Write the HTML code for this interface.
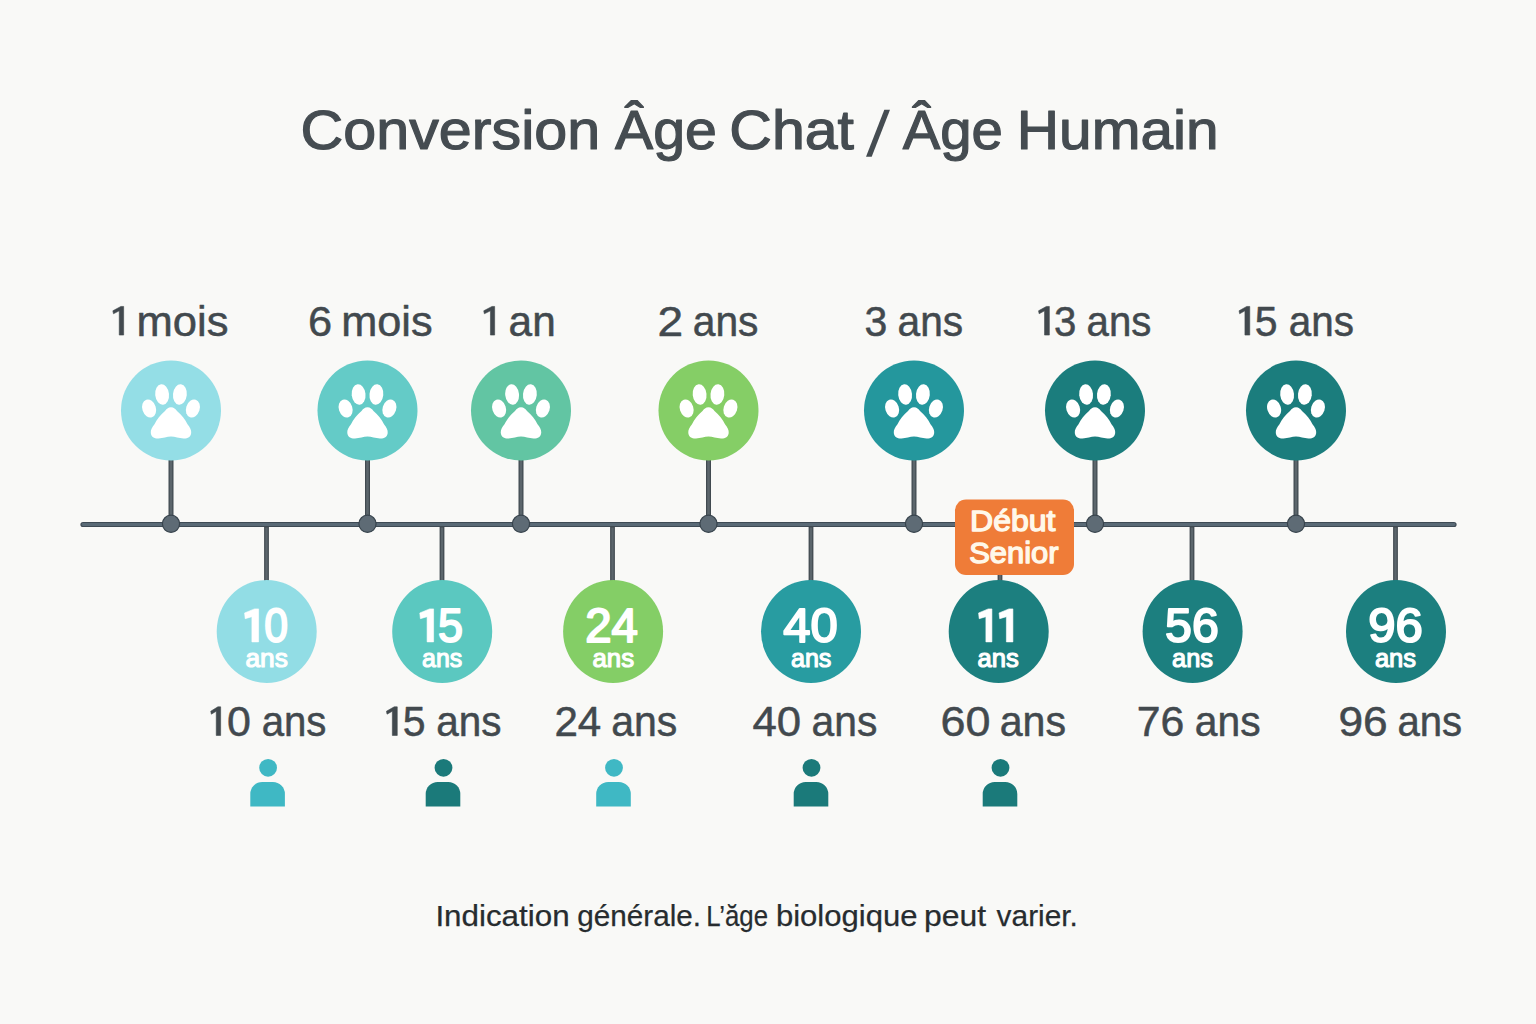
<!DOCTYPE html>
<html><head><meta charset="utf-8"><style>
html,body{margin:0;padding:0;background:#f9f9f7;width:1536px;height:1024px;overflow:hidden}
svg{display:block;font-family:"Liberation Sans",sans-serif}
</style></head><body>
<svg width="1536" height="1024" viewBox="0 0 1536 1024">
<defs><symbol id="paw" viewBox="-50 -50 100 100" overflow="visible">
<ellipse cx="-8.9" cy="-16" rx="6.9" ry="10.2" transform="rotate(-6 -8.9 -16)"/>
<ellipse cx="8.9" cy="-16" rx="6.9" ry="10.2" transform="rotate(6 8.9 -16)"/>
<ellipse cx="-21.9" cy="-2" rx="6.8" ry="9.2" transform="rotate(-18 -21.9 -2)"/>
<ellipse cx="21.9" cy="-2" rx="6.8" ry="9.2" transform="rotate(18 21.9 -2)"/>
<path d="M0 -3.3C2.8 -3.3 4.5 -1.5 6 0.5C10.4 4.2 14.4 9.3 16.5 13.8C19 17 20.5 19.5 20.2 22.5C19.8 26.5 16.5 28.2 12.5 28C8 27.8 4 26 0 26C-4 26 -8 27.8 -12.5 28C-16.5 28.2 -19.8 26.5 -20.2 22.5C-20.5 19.5 -19 17 -16.5 13.8C-14.4 9.3 -10.4 4.2 -6 0.5C-4.5 -1.5 -2.8 -3.3 0 -3.3Z"/>
</symbol></defs>
<line x1="83" y1="524.5" x2="1454" y2="524.5" stroke="#3f4b55" stroke-width="5.2" stroke-linecap="round"/>
<line x1="83" y1="524.5" x2="1454" y2="524.5" stroke="#5a6a76" stroke-width="2.8" stroke-linecap="round"/>
<line x1="171" y1="458.5" x2="171" y2="524.5" stroke="#414a50" stroke-width="5"/>
<line x1="171" y1="458.5" x2="171" y2="521.5" stroke="#5c666c" stroke-width="2.6"/>
<line x1="367.5" y1="458.5" x2="367.5" y2="524.5" stroke="#414a50" stroke-width="5"/>
<line x1="367.5" y1="458.5" x2="367.5" y2="521.5" stroke="#5c666c" stroke-width="2.6"/>
<line x1="521" y1="458.5" x2="521" y2="524.5" stroke="#414a50" stroke-width="5"/>
<line x1="521" y1="458.5" x2="521" y2="521.5" stroke="#5c666c" stroke-width="2.6"/>
<line x1="708.5" y1="458.5" x2="708.5" y2="524.5" stroke="#414a50" stroke-width="5"/>
<line x1="708.5" y1="458.5" x2="708.5" y2="521.5" stroke="#5c666c" stroke-width="2.6"/>
<line x1="914" y1="458.5" x2="914" y2="524.5" stroke="#414a50" stroke-width="5"/>
<line x1="914" y1="458.5" x2="914" y2="521.5" stroke="#5c666c" stroke-width="2.6"/>
<line x1="1095" y1="458.5" x2="1095" y2="524.5" stroke="#414a50" stroke-width="5"/>
<line x1="1095" y1="458.5" x2="1095" y2="521.5" stroke="#5c666c" stroke-width="2.6"/>
<line x1="1296" y1="458.5" x2="1296" y2="524.5" stroke="#414a50" stroke-width="5"/>
<line x1="1296" y1="458.5" x2="1296" y2="521.5" stroke="#5c666c" stroke-width="2.6"/>
<line x1="266.5" y1="526.5" x2="266.5" y2="583.4" stroke="#414a50" stroke-width="4.8"/>
<line x1="266.5" y1="527.5" x2="266.5" y2="583.4" stroke="#5c666c" stroke-width="2.4"/>
<line x1="442" y1="526.5" x2="442" y2="583.4" stroke="#414a50" stroke-width="4.8"/>
<line x1="442" y1="527.5" x2="442" y2="583.4" stroke="#5c666c" stroke-width="2.4"/>
<line x1="612.5" y1="526.5" x2="612.5" y2="583.4" stroke="#414a50" stroke-width="4.8"/>
<line x1="612.5" y1="527.5" x2="612.5" y2="583.4" stroke="#5c666c" stroke-width="2.4"/>
<line x1="811" y1="526.5" x2="811" y2="583.4" stroke="#414a50" stroke-width="4.8"/>
<line x1="811" y1="527.5" x2="811" y2="583.4" stroke="#5c666c" stroke-width="2.4"/>
<line x1="1000" y1="526.5" x2="1000" y2="583.4" stroke="#414a50" stroke-width="4.8"/>
<line x1="1000" y1="527.5" x2="1000" y2="583.4" stroke="#5c666c" stroke-width="2.4"/>
<line x1="1192" y1="526.5" x2="1192" y2="583.4" stroke="#414a50" stroke-width="4.8"/>
<line x1="1192" y1="527.5" x2="1192" y2="583.4" stroke="#5c666c" stroke-width="2.4"/>
<line x1="1395.5" y1="526.5" x2="1395.5" y2="583.4" stroke="#414a50" stroke-width="4.8"/>
<line x1="1395.5" y1="527.5" x2="1395.5" y2="583.4" stroke="#5c666c" stroke-width="2.4"/>
<circle cx="171" cy="410.5" r="50" fill="#94dee6"/>
<use href="#paw" x="121" y="360.5" width="100" height="100" fill="#fff"/>
<circle cx="171" cy="523.8" r="8.6" fill="#5e6b75" stroke="#38444d" stroke-width="1.2"/>
<circle cx="367.5" cy="410.5" r="50" fill="#64cbc7"/>
<use href="#paw" x="317.5" y="360.5" width="100" height="100" fill="#fff"/>
<circle cx="367.5" cy="523.8" r="8.6" fill="#5e6b75" stroke="#38444d" stroke-width="1.2"/>
<circle cx="521" cy="410.5" r="50" fill="#62c5a3"/>
<use href="#paw" x="471" y="360.5" width="100" height="100" fill="#fff"/>
<circle cx="521" cy="523.8" r="8.6" fill="#5e6b75" stroke="#38444d" stroke-width="1.2"/>
<circle cx="708.5" cy="410.5" r="50" fill="#85ce66"/>
<use href="#paw" x="658.5" y="360.5" width="100" height="100" fill="#fff"/>
<circle cx="708.5" cy="523.8" r="8.6" fill="#5e6b75" stroke="#38444d" stroke-width="1.2"/>
<circle cx="914" cy="410.5" r="50" fill="#24979d"/>
<use href="#paw" x="864" y="360.5" width="100" height="100" fill="#fff"/>
<circle cx="914" cy="523.8" r="8.6" fill="#5e6b75" stroke="#38444d" stroke-width="1.2"/>
<circle cx="1095" cy="410.5" r="50" fill="#1b7d7d"/>
<use href="#paw" x="1045" y="360.5" width="100" height="100" fill="#fff"/>
<circle cx="1095" cy="523.8" r="8.6" fill="#5e6b75" stroke="#38444d" stroke-width="1.2"/>
<circle cx="1296" cy="410.5" r="50" fill="#1b7d7d"/>
<use href="#paw" x="1246" y="360.5" width="100" height="100" fill="#fff"/>
<circle cx="1296" cy="523.8" r="8.6" fill="#5e6b75" stroke="#38444d" stroke-width="1.2"/>
<ellipse cx="266.7" cy="631.4" rx="50" ry="51.5" fill="#92dde5"/>
<path d="M258.60 608.90L258.60 641.90L251.90 641.90L251.90 616.66L245.20 618.68L244.60 612.97L254.52 608.90Z" fill="#fff" stroke="#fff" stroke-width="0.6" stroke-linejoin="round"/>
<text x="264.35" y="642.2" font-size="48.5" fill="#fff" stroke="#fff" stroke-width="2.0" stroke-linejoin="round" textLength="23.78" lengthAdjust="spacingAndGlyphs">0</text>
<text x="245.48" y="667" font-size="26.5" fill="#fff" stroke="#fff" stroke-width="1.2" stroke-linejoin="round" textLength="42.38" lengthAdjust="spacingAndGlyphs">ans</text>
<ellipse cx="442.2" cy="631.4" rx="50" ry="51.5" fill="#5bc8c0"/>
<path d="M433.60 608.90L433.60 641.90L427.10 641.90L427.10 616.66L420.40 618.68L419.80 612.97L429.64 608.90Z" fill="#fff" stroke="#fff" stroke-width="0.6" stroke-linejoin="round"/>
<text x="437.95" y="642.2" font-size="48.5" fill="#fff" stroke="#fff" stroke-width="2.0" stroke-linejoin="round" textLength="25.00" lengthAdjust="spacingAndGlyphs">5</text>
<text x="422.04" y="667" font-size="26.5" fill="#fff" stroke="#fff" stroke-width="1.2" stroke-linejoin="round" textLength="40.18" lengthAdjust="spacingAndGlyphs">ans</text>
<ellipse cx="613.1" cy="631.4" rx="50" ry="51.5" fill="#84ce66"/>
<text x="585.15" y="642.2" font-size="48.5" fill="#fff" stroke="#fff" stroke-width="2.0" stroke-linejoin="round" textLength="52.76" lengthAdjust="spacingAndGlyphs">24</text>
<text x="592.50" y="667" font-size="26.5" fill="#fff" stroke="#fff" stroke-width="1.2" stroke-linejoin="round" textLength="41.60" lengthAdjust="spacingAndGlyphs">ans</text>
<ellipse cx="811" cy="631.4" rx="50" ry="51.5" fill="#289ca1"/>
<text x="783.16" y="642.2" font-size="48.5" fill="#fff" stroke="#fff" stroke-width="2.0" stroke-linejoin="round" textLength="54.47" lengthAdjust="spacingAndGlyphs">40</text>
<text x="790.93" y="667" font-size="26.5" fill="#fff" stroke="#fff" stroke-width="1.2" stroke-linejoin="round" textLength="40.49" lengthAdjust="spacingAndGlyphs">ans</text>
<ellipse cx="998.7" cy="631.4" rx="50" ry="51.5" fill="#1c7f7f"/>
<path d="M991.90 608.90L991.90 641.90L985.90 641.90L985.90 616.66L979.20 618.68L978.60 612.97L988.24 608.90Z" fill="#fff" stroke="#fff" stroke-width="0.6" stroke-linejoin="round"/>
<path d="M1012.90 608.90L1012.90 641.90L1006.40 641.90L1006.40 616.66L999.70 618.68L999.10 612.97L1008.94 608.90Z" fill="#fff" stroke="#fff" stroke-width="0.6" stroke-linejoin="round"/>
<text x="977.51" y="667" font-size="26.5" fill="#fff" stroke="#fff" stroke-width="1.2" stroke-linejoin="round" textLength="41.23" lengthAdjust="spacingAndGlyphs">ans</text>
<ellipse cx="1192.6" cy="631.4" rx="50" ry="51.5" fill="#1c7f7f"/>
<text x="1165.11" y="642.2" font-size="48.5" fill="#fff" stroke="#fff" stroke-width="2.0" stroke-linejoin="round" textLength="53.65" lengthAdjust="spacingAndGlyphs">56</text>
<text x="1172.02" y="667" font-size="26.5" fill="#fff" stroke="#fff" stroke-width="1.2" stroke-linejoin="round" textLength="41.02" lengthAdjust="spacingAndGlyphs">ans</text>
<ellipse cx="1396" cy="631.4" rx="50" ry="51.5" fill="#1c7f7f"/>
<text x="1368.32" y="642.2" font-size="48.5" fill="#fff" stroke="#fff" stroke-width="2.0" stroke-linejoin="round" textLength="54.57" lengthAdjust="spacingAndGlyphs">96</text>
<text x="1374.92" y="667" font-size="26.5" fill="#fff" stroke="#fff" stroke-width="1.2" stroke-linejoin="round" textLength="41.12" lengthAdjust="spacingAndGlyphs">ans</text>
<rect x="955" y="499.5" width="119" height="75.5" rx="11" fill="#ef7c38"/>
<text x="970.03" y="531.3" font-size="29" fill="#fff8ea" stroke="#fff8ea" stroke-width="1.3" stroke-linejoin="round" textLength="85.47" lengthAdjust="spacingAndGlyphs">Début</text>
<text x="969.18" y="563.3" font-size="29" fill="#fff8ea" stroke="#fff8ea" stroke-width="1.3" stroke-linejoin="round" textLength="89.39" lengthAdjust="spacingAndGlyphs">Senior</text>
<path d="M123.65 306.45L123.65 335.05L119.25 335.05L119.25 310.80L113.45 313.77L112.85 310.80L120.90 306.45Z" fill="#42494e" stroke="#42494e" stroke-width="0.6" stroke-linejoin="round"/>
<text x="136.60" y="335.6" font-size="42" fill="#42494e" stroke="#42494e" stroke-width="0.5" stroke-linejoin="round" textLength="91.96" lengthAdjust="spacingAndGlyphs">mois</text>
<text x="308.06" y="335.6" font-size="42" fill="#42494e" stroke="#42494e" stroke-width="0.5" stroke-linejoin="round" textLength="24.11" lengthAdjust="spacingAndGlyphs">6</text>
<text x="341.21" y="335.6" font-size="42" fill="#42494e" stroke="#42494e" stroke-width="0.5" stroke-linejoin="round" textLength="91.44" lengthAdjust="spacingAndGlyphs">mois</text>
<path d="M494.65 306.45L494.65 335.05L490.45 335.05L490.45 310.80L484.35 313.77L483.75 310.80L492.02 306.45Z" fill="#42494e" stroke="#42494e" stroke-width="0.6" stroke-linejoin="round"/>
<text x="508.59" y="335.6" font-size="42" fill="#42494e" stroke="#42494e" stroke-width="0.5" stroke-linejoin="round" textLength="47.11" lengthAdjust="spacingAndGlyphs">an</text>
<text x="657.42" y="335.6" font-size="42" fill="#42494e" stroke="#42494e" stroke-width="0.5" stroke-linejoin="round" textLength="25.65" lengthAdjust="spacingAndGlyphs">2</text>
<text x="692.75" y="335.6" font-size="42" fill="#42494e" stroke="#42494e" stroke-width="0.5" stroke-linejoin="round" textLength="65.72" lengthAdjust="spacingAndGlyphs">ans</text>
<text x="864.46" y="335.6" font-size="42" fill="#42494e" stroke="#42494e" stroke-width="0.5" stroke-linejoin="round" textLength="22.80" lengthAdjust="spacingAndGlyphs">3</text>
<text x="897.55" y="335.6" font-size="42" fill="#42494e" stroke="#42494e" stroke-width="0.5" stroke-linejoin="round" textLength="65.62" lengthAdjust="spacingAndGlyphs">ans</text>
<path d="M1049.35 306.45L1049.35 335.05L1044.55 335.05L1044.55 310.80L1039.15 313.77L1038.55 310.80L1046.36 306.45Z" fill="#42494e" stroke="#42494e" stroke-width="0.6" stroke-linejoin="round"/>
<text x="1054.10" y="335.6" font-size="42" fill="#42494e" stroke="#42494e" stroke-width="0.5" stroke-linejoin="round" textLength="22.33" lengthAdjust="spacingAndGlyphs">3</text>
<text x="1086.58" y="335.6" font-size="42" fill="#42494e" stroke="#42494e" stroke-width="0.5" stroke-linejoin="round" textLength="64.78" lengthAdjust="spacingAndGlyphs">ans</text>
<path d="M1249.75 306.45L1249.75 335.05L1244.95 335.05L1244.95 310.80L1239.65 313.77L1239.05 310.80L1246.76 306.45Z" fill="#42494e" stroke="#42494e" stroke-width="0.6" stroke-linejoin="round"/>
<text x="1254.74" y="335.6" font-size="42" fill="#42494e" stroke="#42494e" stroke-width="0.5" stroke-linejoin="round" textLength="22.80" lengthAdjust="spacingAndGlyphs">5</text>
<text x="1288.67" y="335.6" font-size="42" fill="#42494e" stroke="#42494e" stroke-width="0.5" stroke-linejoin="round" textLength="65.20" lengthAdjust="spacingAndGlyphs">ans</text>
<path d="M220.65 706.85L220.65 735.45L216.25 735.45L216.25 711.20L211.35 714.17L210.75 711.20L217.90 706.85Z" fill="#42494e" stroke="#42494e" stroke-width="0.6" stroke-linejoin="round"/>
<text x="226.99" y="736.0" font-size="42" fill="#42494e" stroke="#42494e" stroke-width="0.5" stroke-linejoin="round" textLength="23.91" lengthAdjust="spacingAndGlyphs">0</text>
<text x="261.68" y="736.0" font-size="42" fill="#42494e" stroke="#42494e" stroke-width="0.5" stroke-linejoin="round" textLength="64.78" lengthAdjust="spacingAndGlyphs">ans</text>
<path d="M397.25 706.85L397.25 735.45L392.35 735.45L392.35 711.20L387.05 714.17L386.45 711.20L394.20 706.85Z" fill="#42494e" stroke="#42494e" stroke-width="0.6" stroke-linejoin="round"/>
<text x="402.64" y="736.0" font-size="42" fill="#42494e" stroke="#42494e" stroke-width="0.5" stroke-linejoin="round" textLength="22.80" lengthAdjust="spacingAndGlyphs">5</text>
<text x="436.17" y="736.0" font-size="42" fill="#42494e" stroke="#42494e" stroke-width="0.5" stroke-linejoin="round" textLength="65.20" lengthAdjust="spacingAndGlyphs">ans</text>
<text x="554.42" y="736.0" font-size="42" fill="#42494e" stroke="#42494e" stroke-width="0.5" stroke-linejoin="round" textLength="46.85" lengthAdjust="spacingAndGlyphs">24</text>
<text x="611.14" y="736.0" font-size="42" fill="#42494e" stroke="#42494e" stroke-width="0.5" stroke-linejoin="round" textLength="66.14" lengthAdjust="spacingAndGlyphs">ans</text>
<text x="752.51" y="736.0" font-size="42" fill="#42494e" stroke="#42494e" stroke-width="0.5" stroke-linejoin="round" textLength="48.70" lengthAdjust="spacingAndGlyphs">40</text>
<text x="811.55" y="736.0" font-size="42" fill="#42494e" stroke="#42494e" stroke-width="0.5" stroke-linejoin="round" textLength="65.72" lengthAdjust="spacingAndGlyphs">ans</text>
<text x="940.48" y="736.0" font-size="42" fill="#42494e" stroke="#42494e" stroke-width="0.5" stroke-linejoin="round" textLength="49.98" lengthAdjust="spacingAndGlyphs">60</text>
<text x="999.74" y="736.0" font-size="42" fill="#42494e" stroke="#42494e" stroke-width="0.5" stroke-linejoin="round" textLength="66.35" lengthAdjust="spacingAndGlyphs">ans</text>
<text x="1136.84" y="736.0" font-size="42" fill="#42494e" stroke="#42494e" stroke-width="0.5" stroke-linejoin="round" textLength="47.59" lengthAdjust="spacingAndGlyphs">76</text>
<text x="1194.75" y="736.0" font-size="42" fill="#42494e" stroke="#42494e" stroke-width="0.5" stroke-linejoin="round" textLength="65.83" lengthAdjust="spacingAndGlyphs">ans</text>
<text x="1338.44" y="736.0" font-size="42" fill="#42494e" stroke="#42494e" stroke-width="0.5" stroke-linejoin="round" textLength="49.25" lengthAdjust="spacingAndGlyphs">96</text>
<text x="1397.48" y="736.0" font-size="42" fill="#42494e" stroke="#42494e" stroke-width="0.5" stroke-linejoin="round" textLength="64.67" lengthAdjust="spacingAndGlyphs">ans</text>
<circle cx="268.1" cy="767.8" r="8.9" fill="#3fb8c4"/>
<path d="M250.3 806.5V794.1A12 12 0 0 1 262.3 782.1H272.90000000000003A12 12 0 0 1 284.90000000000003 794.1V806.5Z" fill="#3fb8c4"/>
<circle cx="443.5" cy="767.8" r="8.9" fill="#1b7a7a"/>
<path d="M425.7 806.5V794.1A12 12 0 0 1 437.7 782.1H448.3A12 12 0 0 1 460.3 794.1V806.5Z" fill="#1b7a7a"/>
<circle cx="614.0" cy="767.8" r="8.9" fill="#3fb8c4"/>
<path d="M596.2 806.5V794.1A12 12 0 0 1 608.2 782.1H618.8A12 12 0 0 1 630.8 794.1V806.5Z" fill="#3fb8c4"/>
<circle cx="811.5" cy="767.8" r="8.9" fill="#1b7a7a"/>
<path d="M793.7 806.5V794.1A12 12 0 0 1 805.7 782.1H816.3A12 12 0 0 1 828.3 794.1V806.5Z" fill="#1b7a7a"/>
<circle cx="1000.5" cy="767.8" r="8.9" fill="#1b7a7a"/>
<path d="M982.7 806.5V794.1A12 12 0 0 1 994.7 782.1H1005.3A12 12 0 0 1 1017.3 794.1V806.5Z" fill="#1b7a7a"/>
<text x="300.56" y="149.3" font-size="56" fill="#454c51" stroke="#454c51" stroke-width="1.2" stroke-linejoin="round" textLength="299.68" lengthAdjust="spacingAndGlyphs">Conversion</text>
<text x="615.07" y="149.3" font-size="56" fill="#454c51" stroke="#454c51" stroke-width="1.2" stroke-linejoin="round" textLength="101.90" lengthAdjust="spacingAndGlyphs">Âge</text>
<text x="729.27" y="149.3" font-size="56" fill="#454c51" stroke="#454c51" stroke-width="1.2" stroke-linejoin="round" textLength="124.77" lengthAdjust="spacingAndGlyphs">Chat</text>
<text x="902.77" y="149.3" font-size="56" fill="#454c51" stroke="#454c51" stroke-width="1.2" stroke-linejoin="round" textLength="100.15" lengthAdjust="spacingAndGlyphs">Âge</text>
<text x="1016.76" y="149.3" font-size="56" fill="#454c51" stroke="#454c51" stroke-width="1.2" stroke-linejoin="round" textLength="201.90" lengthAdjust="spacingAndGlyphs">Humain</text>
<path d="M884.3 109.8H890L871.7 156.7H866Z" fill="#454c51"/>
<text x="435.40" y="926.1" font-size="29.5" fill="#272c2f" stroke="#272c2f" stroke-width="0.25" stroke-linejoin="round" textLength="134.20" lengthAdjust="spacingAndGlyphs">Indication</text>
<text x="577.27" y="926.1" font-size="29.5" fill="#272c2f" stroke="#272c2f" stroke-width="0.25" stroke-linejoin="round" textLength="123.86" lengthAdjust="spacingAndGlyphs">générale.</text>
<text x="706.35" y="926.1" font-size="29.5" fill="#272c2f" stroke="#272c2f" stroke-width="0.25" stroke-linejoin="round" textLength="61.66" lengthAdjust="spacingAndGlyphs">L’ăge</text>
<text x="775.95" y="926.1" font-size="29.5" fill="#272c2f" stroke="#272c2f" stroke-width="0.25" stroke-linejoin="round" textLength="141.55" lengthAdjust="spacingAndGlyphs">biologique</text>
<text x="924.10" y="926.1" font-size="29.5" fill="#272c2f" stroke="#272c2f" stroke-width="0.25" stroke-linejoin="round" textLength="62.16" lengthAdjust="spacingAndGlyphs">peut</text>
<text x="996.60" y="926.1" font-size="29.5" fill="#272c2f" stroke="#272c2f" stroke-width="0.25" stroke-linejoin="round" textLength="81.32" lengthAdjust="spacingAndGlyphs">varier.</text>
</svg>
</body></html>
